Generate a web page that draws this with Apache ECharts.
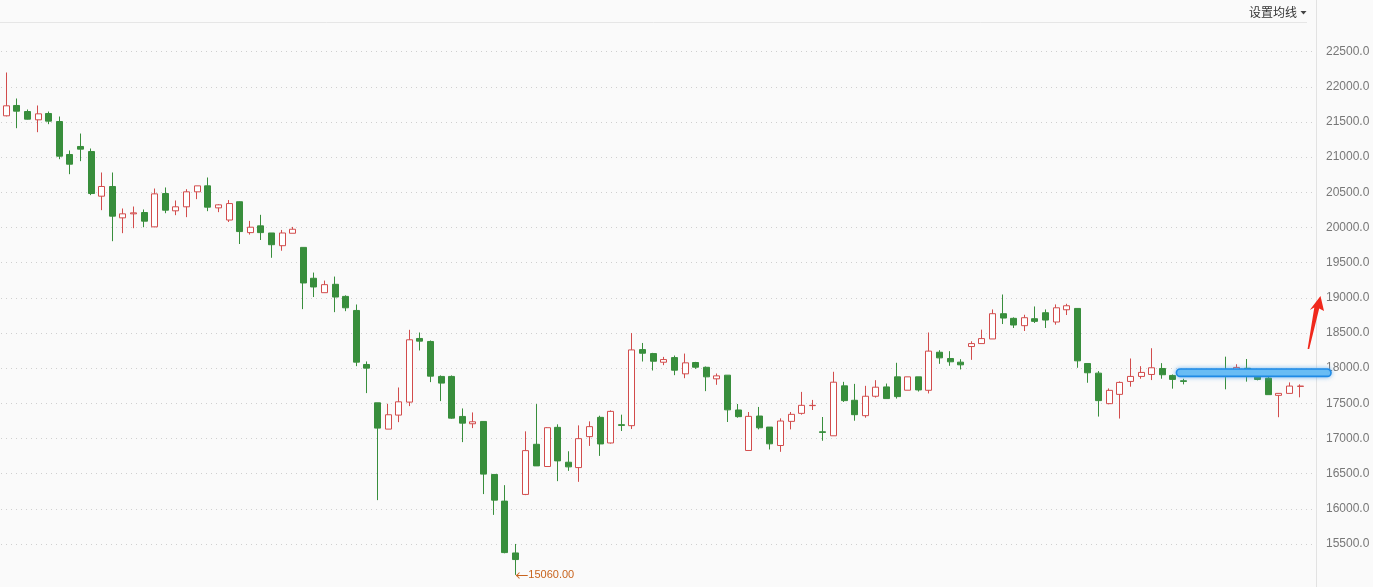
<!DOCTYPE html>
<html>
<head>
<meta charset="utf-8">
<script src="https://cdn.jsdelivr.net/npm/echarts@6/dist/echarts.min.js"></script>
<style>
html,body{margin:0;padding:0;background:#fafafa;}
#main{width:1373px;height:587px;}
</style>
</head>
<body>
<div id="main"></div>
<script>
// ---- data ----
var opens = [21588,21735,21649,21531,21621,21507,21038,21152,21080,20445,
20583,20137,20194,20213,20009,20483,20237,20294,20507,20592,
20279,20106,20366,19927,20023,19922,19741,19918,19717,19278,
19073,19192,19020,18820,18052,17507,17133,17332,17517,18422,
18379,17882,17882,17313,17209,17242,16488,16109,15372,16204,
16917,16601,17158,16662,16586,17026,17300,16936,17196,17182,
18264,18207,18084,18150,17919,18080,18012,17848,17900,17405,
16829,17319,17162,16900,17243,17357,17467,17095,17038,17748,
17543,17324,17600,17733,17876,17686,17876,17685,18226,18137,
18085,18307,18349,18415,18774,18708,18604,18703,18788,18656,
18830,18849,18066,17929,17495,17627,17811,17882,17910,17995,
17896,17821,null,null,null,17960,17915,17998,17887,17858,
17613,17641,17740];
var closes = [21730,21654,21540,21616,21512,21014,20900,21114,20483,20583,
20161,20194,20208,20090,20478,20246,20294,20507,20592,20289,
20322,20340,19942,20004,19927,19755,19922,19975,19211,19154,
19187,19011,18858,18085,18000,17147,17337,17521,18403,18384,
17886,17787,17289,17218,17237,16493,16123,15377,15278,16827,
16610,17153,16681,16596,16997,17168,16922,17385,17186,18259,
18212,18098,18122,17971,18075,18013,17876,17890,17407,17310,
17314,17152,16924,17248,17343,17471,17471,17086,17800,17538,
17338,17600,17729,17567,17595,17876,17690,18242,18146,18090,
18047,18349,18420,18774,18712,18613,18717,18665,18684,18858,
18887,18104,17934,17538,17684,17797,17882,17939,18005,17906,
17840,17811,null,null,null,17935,18010,17915,17840,17623,
17641,17745,17745];
var lows = [21580,21412,21535,21355,21469,20971,20758,20943,20460,20246,
19805,19919,19990,20004,20004,20203,20175,20147,20403,20232,
20218,20078,19765,19899,19822,19569,19669,19918,18839,19011,
19073,18796,18810,18028,17645,16123,17133,17232,17460,18251,
17801,17531,17280,16948,17147,16209,15913,15367,15060,16194,
16610,16601,16393,16539,16383,16894,16752,16927,17106,17134,
18094,17966,18042,17900,17857,17990,17673,17763,17234,17295,
16829,17129,16843,16810,17129,17338,17405,16967,17038,17519,
17252,17295,17581,17567,17567,17686,17667,17640,18061,18033,
17981,18118,18349,18415,18627,18571,18528,18642,18571,18618,
18755,18005,17792,17311,17486,17283,17736,17849,17830,17849,
17708,17769,null,null,null,17699,17915,17808,17826,17623,
17302,17641,17585];
var highs = [22204,21834,21678,21735,21649,21578,21095,21336,21123,20782,
20782,20270,20298,20256,20554,20569,20384,20545,20592,20711,
20331,20390,20370,20094,20180,19922,19965,20008,19717,19359,
19245,19302,19035,18905,18095,17507,17493,17725,18545,18507,
18393,17896,17896,17427,17370,17242,16488,16336,15500,17101,
17489,17160,17201,16818,17186,17243,17323,17399,17338,18500,
18358,18217,18160,18179,18207,18089,18023,17924,17900,17490,
17376,17448,17162,17286,17376,17662,17548,17305,17948,17805,
17776,17748,17829,17781,18076,17876,17876,18507,18255,18241,
18127,18382,18547,18835,19047,18722,18759,18877,18835,18906,
18915,18849,18066,17958,17712,17811,18137,18028,18283,18071,
17910,17849,null,null,null,18163,18055,18130,17910,17929,
17641,17797,17769];
var slotCount = 124;          // number of category slots on the x axis
var yMin = 15010, yMax = 22922;
var yStep = 500;
var levelPrice = 17935;       // price of the drawn horizontal annotation
var levelStartIndex = 111;    // category where the annotation starts

var categories = [];
for (var i = 0; i < slotCount; i++) categories.push(String(i + 1));
var kdata = opens.map(function (o, i) {
  if (o === null) return ['-', '-', '-', '-'];
  return [o, closes[i], lows[i], highs[i]];
});

var chart = echarts.init(document.getElementById('main'), null, {renderer: 'canvas'});
var option = {
  backgroundColor: '#fafafa',
  animation: false,
  grid: {left: 1, right: 57, top: 22, bottom: 8.6},
  xAxis: {
    type: 'category', data: categories, boundaryGap: true,
    axisLine: {show: false}, axisTick: {show: false}, axisLabel: {show: false},
    splitLine: {show: false}
  },
  yAxis: {
    type: 'value', position: 'right', min: yMin, max: yMax,
    minInterval: yStep, maxInterval: yStep, splitNumber: 16,
    axisLine: {show: true, lineStyle: {color: '#e2e2e2', width: 1}},
    axisTick: {show: false},
    axisLabel: {
      margin: 10, color: '#777', fontSize: 12, fontFamily: 'Liberation Sans',
      showMinLabel: false, showMaxLabel: false,
      formatter: function (v) { return v.toFixed(1); }
    },
    splitLine: {show: true, showMinLine: false, showMaxLine: false,
      lineStyle: {color: '#cfcfcf', type: [1, 4], width: 1}}
  },
  series: [{
    type: 'candlestick',
    data: kdata,
    barWidth: 6.5,
    clip: false,
    itemStyle: {
      color: '#ffffff', color0: '#388e3c',
      borderColor: '#d24c4c', borderColor0: '#388e3c', borderWidth: 1
    },
    markPoint: {
      symbol: 'circle', symbolSize: 0,
      data: [{type: 'min', valueDim: 'lowest'}],
      label: {
        show: true, position: 'right', distance: 0,
        color: '#c8641e',
        formatter: function (p) { return '{a|\u2190}{b|' + Number(p.value).toFixed(2) + '}'; },
        rich: {
          a: {color: '#c8641e', fontSize: 13, fontFamily: 'Noto Sans CJK SC'},
          b: {color: '#c8641e', fontSize: 11, fontFamily: 'Liberation Sans'}
        }
      }
    }
  }]
};
chart.setOption(option);

var yLevel = chart.convertToPixel({yAxisIndex: 0}, levelPrice);
var xStart = chart.convertToPixel({xAxisIndex: 0}, levelStartIndex) - 7;
chart.setOption({
  graphic: [
    {type: 'line', shape: {x1: 0, y1: 22.5, x2: 1307, y2: 22.5},
     style: {stroke: '#e6e6e6', lineWidth: 1}, silent: true},
    {type: 'line', shape: {x1: 1316.5, y1: 0, x2: 1316.5, y2: 22},
     style: {stroke: '#e2e2e2', lineWidth: 1}, silent: true},
    {type: 'line', shape: {x1: 1316.5, y1: 578, x2: 1316.5, y2: 587},
     style: {stroke: '#e2e2e2', lineWidth: 1}, silent: true},
    {type: 'text', x: 1297, y: 12,
     style: {text: '设置均线', fill: '#333', font: '12px "Noto Sans CJK SC"',
       textAlign: 'right', textVerticalAlign: 'middle'}},
    {type: 'polygon', shape: {points: [[1300.5, 11], [1306.5, 11], [1303.5, 14.5]]},
     style: {fill: '#444'}},
    {type: 'rect', z: 100,
     shape: {x: xStart, y: yLevel - 3.7, width: 1331 - xStart, height: 7.4, r: 3.7},
     style: {fill: '#6cc0f5', stroke: '#1e8ae6', lineWidth: 1.6,
       shadowBlur: 4, shadowColor: 'rgba(90,170,240,0.7)'}},
    {type: 'polygon', z: 100,
     shape: {points: [[1320.5, 296], [1324, 311], [1319.2, 308.5], [1309.2, 349],
                      [1307.6, 349], [1314.3, 307.5], [1309.8, 310]]},
     style: {fill: '#f0281c'}}
  ]
});
</script>
</body>
</html>
